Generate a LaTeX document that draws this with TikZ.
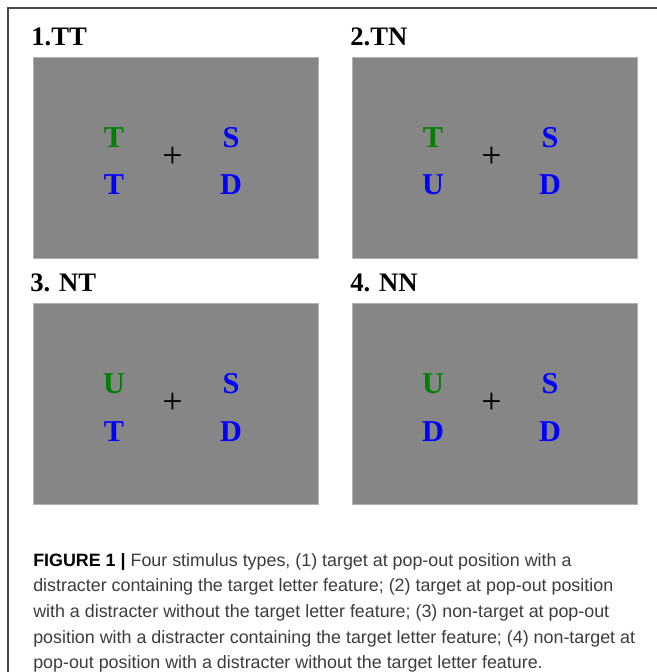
\documentclass[tikz,border=0pt]{standalone}
\usepackage{fontspec}
\setmainfont{Liberation Serif}
\setsansfont{Liberation Sans}
\usetikzlibrary{positioning,calc}
\definecolor{screengray}{RGB}{134,134,134}
\definecolor{popgreen}{RGB}{0,128,0}
\definecolor{letterblue}{RGB}{0,0,255}
\definecolor{framegray}{RGB}{72,72,72}
\definecolor{captiongray}{RGB}{60,60,60}

\begin{document}
\begin{tikzpicture}[
    x=0.75pt, y=-0.75pt,
    panel/.style={rectangle, fill=screengray, draw=gray!60, line width=0.4pt, minimum width=213.75pt, minimum height=150.75pt, inner sep=0pt, anchor=north west},
    lbl/.style={anchor=base west, inner sep=0pt, font=\fontsize{20}{24}\selectfont\bfseries},
    poptgt/.style={inner sep=0pt, text=popgreen, font=\fontsize{22.7}{26}\selectfont\bfseries},
    distr/.style={inner sep=0pt, text=letterblue, font=\fontsize{22.7}{26}\selectfont\bfseries},
    fixation/.style={inner sep=0pt, font=\fontsize{27}{30}\selectfont},
    caption/.style={anchor=north west, inner sep=0pt, align=left, text=captiongray, font=\sffamily\fontsize{13.4}{19.2}\selectfont}
]
\useasboundingbox (0,0) rectangle (657,672);

% outer frame
\draw[framegray, line width=0.9pt] (8,672) -- (8,8) -- (657,8);

% 1. TT
\node[lbl] (lab1) at (31,45) {1.TT};
\node[panel] (scr1) at (33,57) {};
\node[poptgt] (a1) at (114,137.5) {T};
\node[distr] (b1) at (231,137.5) {S};
\node[distr] (c1) at (114,185) {T};
\node[distr] (d1) at (231,185) {D};
\node[fixation] (fix1) at (172.5,157) {+};

% 2. TN
\node[lbl] (lab2) at (350,45) {2.TN};
\node[panel] (scr2) at (352,57) {};
\node[poptgt] (a2) at (433,137.5) {T};
\node[distr] (b2) at (550,137.5) {S};
\node[distr] (c2) at (433,185) {U};
\node[distr] (d2) at (550,185) {D};
\node[fixation] (fix2) at (491.5,157) {+};

% 3. NT
\node[lbl] (lab3) at (30,291) {3. NT};
\node[panel] (scr3) at (33,303) {};
\node[poptgt] (a3) at (114,384) {U};
\node[distr] (b3) at (231,384) {S};
\node[distr] (c3) at (114,431.5) {T};
\node[distr] (d3) at (231,431.5) {D};
\node[fixation] (fix3) at (172.5,403) {+};

% 4. NN
\node[lbl] (lab4) at (350,291) {4. NN};
\node[panel] (scr4) at (352,303) {};
\node[poptgt] (a4) at (433,384) {U};
\node[distr] (b4) at (550,384) {S};
\node[distr] (c4) at (433,431.5) {D};
\node[distr] (d4) at (550,431.5) {D};
\node[fixation] (fix4) at (491.5,403) {+};

% caption
\node[caption] (cap) at (33,553) {%
    {\color{black}\bfseries FIGURE 1 |} Four stimulus types, (1) target at pop-out position with a\\
    distracter containing the target letter feature; (2) target at pop-out position\\
    with a distracter without the target letter feature; (3) non-target at pop-out\\
    position with a distracter containing the target letter feature; (4) non-target at\\
    pop-out position with a distracter without the target letter feature.};

\end{tikzpicture}
\end{document}
